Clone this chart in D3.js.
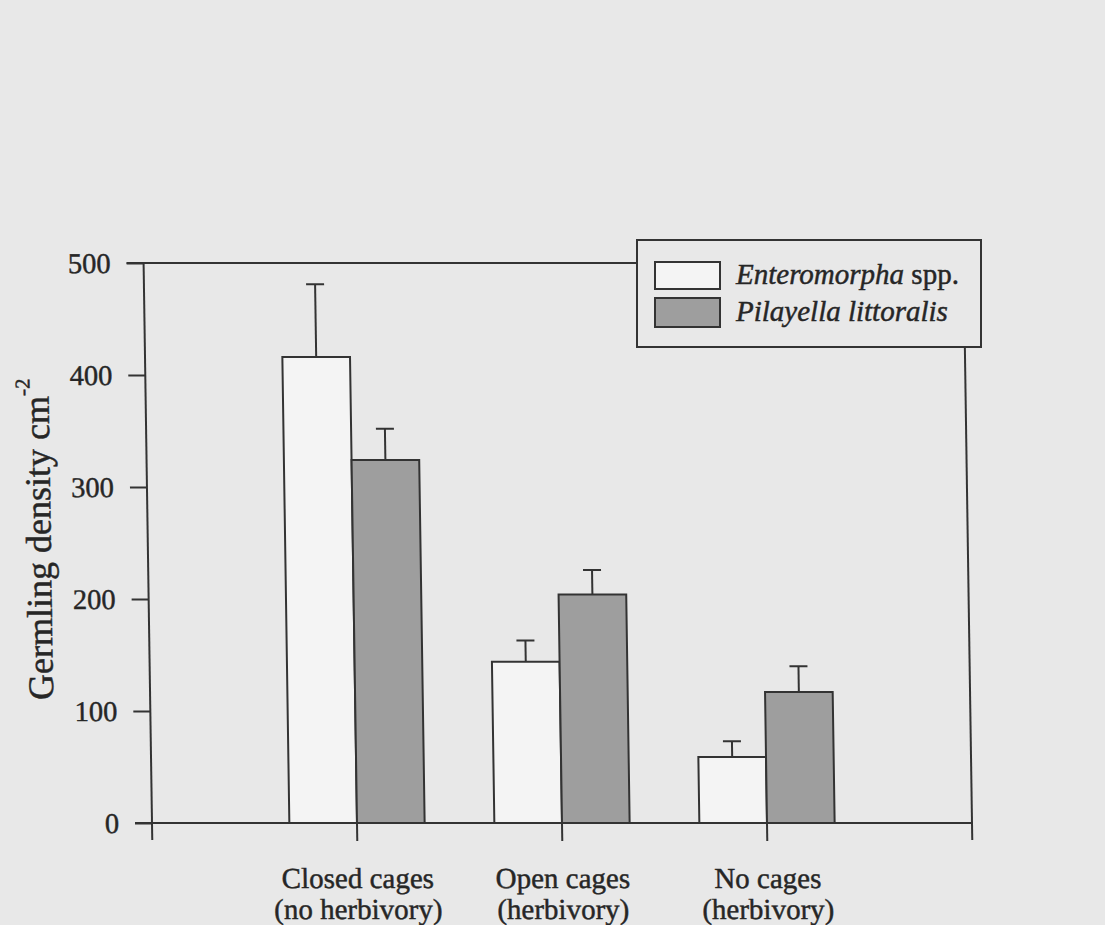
<!DOCTYPE html>
<html>
<head>
<meta charset="utf-8">
<script src="https://cdn.jsdelivr.net/npm/d3@7"></script>
<style>
  html, body { margin: 0; padding: 0; background: #e8e8e8; }
  svg { display: block; }
</style>
</head>
<body>
<script>
// Treatments (x categories) and their second label line
const categories = ["Closed cages", "Open cages", "No cages"];
const subLabels = ["(no herbivory)", "(herbivory)", "(herbivory)"];

// Series
const seriesNames = ["Enteromorpha", "Pilayella"];
const enteromorpha = [416, 144, 59];
const enteromorphaSE = [65, 19, 14];
const pilayella = [324, 204, 117];
const pilayellaSE = [28, 22, 23];

// Y-axis ticks
const yTicks = [0, 100, 200, 300, 400, 500];

const W = 1105, H = 925;
const ink = "#333333";
const textInk = "#262626";
const fills = { Enteromorpha: "#f4f4f4", Pilayella: "#9e9e9e" };
const font = "'Liberation Serif', 'Times New Roman', serif";

const svg = d3.select("body").append("svg")
  .attr("width", W).attr("height", H)
  .style("background", "#e8e8e8");

// The printed figure leans slightly; anchor the lean at the baseline
const chart = svg.append("g")
  .attr("transform", "translate(0,823) skewX(0.86) translate(0,-823)");

const y = d3.scaleLinear().domain([0, 500]).range([823, 263]);
const x0 = d3.scaleBand().domain(categories).range([152, 972])
  .paddingInner(0.34).paddingOuter(0.67);
const x1 = d3.scaleBand().domain(seriesNames).range([0, x0.bandwidth()]);

const rows = categories.map((c, i) => ({
  cat: c,
  bars: [
    { s: "Enteromorpha", v: enteromorpha[i], se: enteromorphaSE[i] },
    { s: "Pilayella", v: pilayella[i], se: pilayellaSE[i] }
  ]
}));

// Heavier printed text
function inked(sel) {
  return sel.attr("fill", textInk).attr("stroke", textInk).attr("stroke-width", 0.45);
}

// Frame lines (each overshoots its corner like a tick)
const frame = chart.append("g").attr("stroke", ink).attr("stroke-width", 2).attr("fill", "none");
frame.append("line").attr("x1", 152).attr("x2", 152).attr("y1", y(500)).attr("y2", 840);
frame.append("line").attr("x1", 135).attr("x2", 972).attr("y1", y(0)).attr("y2", y(0));
frame.append("line").attr("x1", 135).attr("x2", 972).attr("y1", y(500)).attr("y2", y(500));
frame.append("line").attr("x1", 972).attr("x2", 972).attr("y1", y(500)).attr("y2", 840);

// Y axis ticks and labels
const yAxis = chart.append("g")
  .attr("transform", "translate(152,0)")
  .call(d3.axisLeft(y).tickValues(yTicks).tickSize(17).tickPadding(16));
yAxis.select(".domain").remove();
yAxis.selectAll(".tick line").attr("stroke", ink).attr("stroke-width", 2);
inked(yAxis.selectAll(".tick text"))
  .style("font-family", font).style("font-size", "28.5px");

// X axis ticks (between the paired bars)
const xAxis = chart.append("g")
  .attr("transform", `translate(0,${y(0)})`)
  .call(d3.axisBottom(x0).tickSize(18).tickFormat(""));
xAxis.select(".domain").remove();
xAxis.selectAll(".tick line").attr("stroke", ink).attr("stroke-width", 2);

// Two-line category labels
const xl = inked(chart.append("g"))
  .style("font-family", font).style("font-size", "29px")
  .attr("text-anchor", "middle");
categories.forEach((c, i) => {
  const cx = x0(c) + x0.bandwidth() / 2;
  xl.append("text").attr("x", cx).attr("y", 888).text(c);
  xl.append("text").attr("x", cx).attr("y", 919).text(subLabels[i]);
});

// Bars
const groups = chart.append("g").selectAll("g").data(rows).join("g")
  .attr("transform", d => `translate(${x0(d.cat)},0)`);

// Error bars (upper half only, drawn beneath the bar outline)
groups.selectAll("g.err").data(d => d.bars).join("g").attr("class", "err")
  .each(function (d) {
    const g = d3.select(this);
    const cx = x1(d.s) + x1.bandwidth() / 2;
    g.append("line").attr("x1", cx).attr("x2", cx)
      .attr("y1", y(d.v)).attr("y2", y(d.v + d.se))
      .attr("stroke", ink).attr("stroke-width", 2);
    g.append("line").attr("x1", cx - 9).attr("x2", cx + 9)
      .attr("y1", y(d.v + d.se)).attr("y2", y(d.v + d.se))
      .attr("stroke", ink).attr("stroke-width", 2);
  });

groups.selectAll("rect").data(d => d.bars).join("rect")
  .attr("x", d => x1(d.s))
  .attr("width", x1.bandwidth())
  .attr("y", d => y(d.v))
  .attr("height", d => y(0) - y(d.v))
  .attr("fill", d => fills[d.s])
  .attr("stroke", ink).attr("stroke-width", 2);

// Y-axis title
const yt = inked(chart.append("text"))
  .attr("transform", "translate(55,700) rotate(-90)")
  .style("font-family", font).style("font-size", "36px");
yt.append("tspan").text("Germling density cm");
yt.append("tspan").attr("dy", -19).style("font-size", "21px").text("-2");

// Legend
const lg = svg.append("g").style("font-family", font).style("font-size", "29px");
lg.append("rect").attr("x", 637).attr("y", 240).attr("width", 344).attr("height", 107)
  .attr("fill", "#e8e8e8").attr("stroke", ink).attr("stroke-width", 2);
lg.append("rect").attr("x", 655).attr("y", 262).attr("width", 65).attr("height", 27)
  .attr("fill", fills.Enteromorpha).attr("stroke", ink).attr("stroke-width", 2);
lg.append("rect").attr("x", 655).attr("y", 298).attr("width", 65).attr("height", 29)
  .attr("fill", fills.Pilayella).attr("stroke", ink).attr("stroke-width", 2);
const t1 = inked(lg.append("text")).attr("x", 736).attr("y", 284);
t1.append("tspan").style("font-style", "italic").text("Enteromorpha");
t1.append("tspan").text(" spp.");
inked(lg.append("text")).attr("x", 736).attr("y", 321)
  .style("font-style", "italic").text("Pilayella littoralis");
</script>
</body>
</html>
